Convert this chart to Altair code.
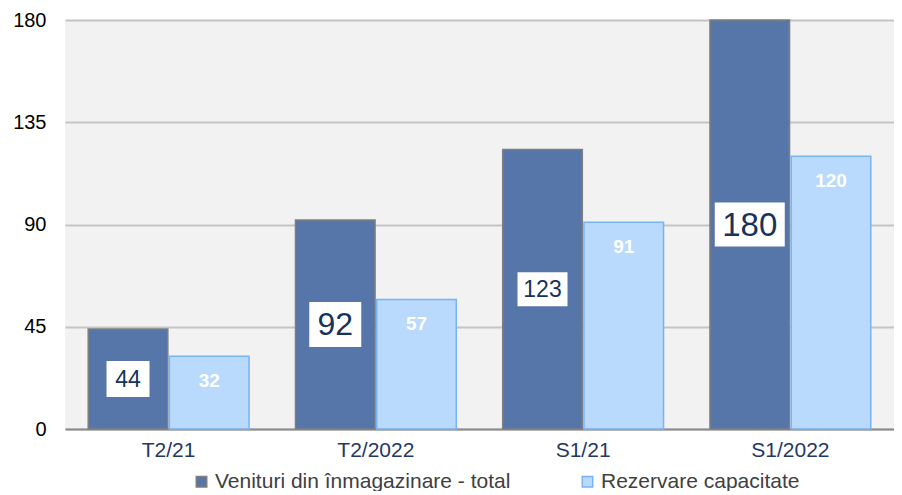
import altair as alt
import pandas as pd

categories = ["T2/21", "T2/2022", "S1/21", "S1/2022"]
series_names = ["Venituri din înmagazinare - total", "Rezervare capacitate"]
venituri = [44, 92, 123, 180]
rezervare = [32, 57, 91, 120]
y_ticks = [0, 45, 90, 135, 180]

# styles for the boxed labels of the dark series
dark_font_sizes = [23, 32, 23, 33]
dark_box_w = [43, 52, 50, 70]
dark_box_h = [36, 45, 34, 44]

rows = []
for i, c in enumerate(categories):
    rows.append({"cat": c, "series": series_names[0], "value": venituri[i]})
    rows.append({"cat": c, "series": series_names[1], "value": rezervare[i]})
df = pd.DataFrame(rows)

lab_rows = []
for i, c in enumerate(categories):
    w, h = dark_box_w[i] / 2, dark_box_h[i] / 2
    lab_rows.append({
        "cat": c, "series": series_names[0], "value": venituri[i],
        "fs": dark_font_sizes[i],
        "box": f"M{-w},{-h}L{w},{-h}L{w},{h}L{-w},{h}Z",
    })
dark_df = pd.DataFrame(lab_rows)
light_df = pd.DataFrame([{"cat": c, "series": series_names[1], "value": rezervare[i]}
                         for i, c in enumerate(categories)])

dark = "#5675a8"
light = "#b9d9fd"
x_enc = alt.X("cat:N", sort=categories, title=None,
              scale=alt.Scale(paddingInner=0.224, paddingOuter=0.112),
              axis=alt.Axis(labelFontSize=21, labelColor="#1f3864", labelFont="Liberation Sans",
                            ticks=False, domainColor="#8c8c8c", domainWidth=2,
                            labelPadding=10, labelAngle=0))
xo = alt.XOffset("series:N", sort=series_names, scale=alt.Scale(paddingInner=0.02))
y_scale = alt.Scale(domain=[0, 180], nice=False)

bars = alt.Chart(df).mark_bar(strokeWidth=1.5).encode(
    x=x_enc, xOffset=xo,
    y=alt.Y("value:Q", scale=y_scale, title=None,
            axis=alt.Axis(values=y_ticks, labelFontSize=20, labelColor="#000000",
                          labelFont="Liberation Sans", ticks=False, domain=False,
                          gridColor="#c4c4c4", gridWidth=2, labelPadding=19)),
    fill=alt.Fill("series:N", sort=series_names, title=None,
                  scale=alt.Scale(domain=series_names, range=[dark, light]),
                  legend=alt.Legend(orient="none", legendX=126, legendY=451, direction="horizontal",
                                    symbolType="square", symbolSize=110, labelFontSize=21,
                                    labelFont="Liberation Sans", labelColor="#404040",
                                    labelLimit=0, columnPadding=66, symbolStrokeWidth=1.5,
                                    labelOffset=3)),
    stroke=alt.Stroke("series:N", sort=series_names, title=None,
                      scale=alt.Scale(domain=series_names, range=["#7f7f7f", "#78b3f3"]),
                      legend=None),
)

boxes = alt.Chart(dark_df).transform_calculate(mid="datum.value / 2").mark_point(
    filled=True, color="white", size=4, opacity=1, strokeWidth=0
).encode(
    x=alt.X("cat:N", sort=categories), xOffset=xo,
    y=alt.Y("mid:Q", scale=y_scale),
    shape=alt.Shape("box:N", scale=None),
)

dark_text = alt.Chart(dark_df).transform_calculate(mid="datum.value / 2").mark_text(
    font="Liberation Sans", color="#17325c", baseline="middle", dy=1
).encode(
    x=alt.X("cat:N", sort=categories), xOffset=xo,
    y=alt.Y("mid:Q", scale=y_scale),
    text=alt.Text("value:Q"),
    size=alt.Size("fs:Q", scale=None),
)

light_text = alt.Chart(light_df).mark_text(
    font="Liberation Sans", fontWeight="bold", fontSize=19, color="white", baseline="middle", dy=25
).encode(
    x=alt.X("cat:N", sort=categories), xOffset=xo,
    y=alt.Y("value:Q", scale=y_scale),
    text=alt.Text("value:Q"),
)

chart = alt.layer(bars, boxes, dark_text, light_text).properties(
    width=829, height=409,
    autosize=alt.AutoSizeParams(type="none"),
    padding={"left": 57, "top": 12, "right": 0, "bottom": 62},
    background="white",
).configure_view(fill="#f2f2f2", stroke=None)

chart.save("out.html", embed_options={"renderer": "svg", "actions": False})
